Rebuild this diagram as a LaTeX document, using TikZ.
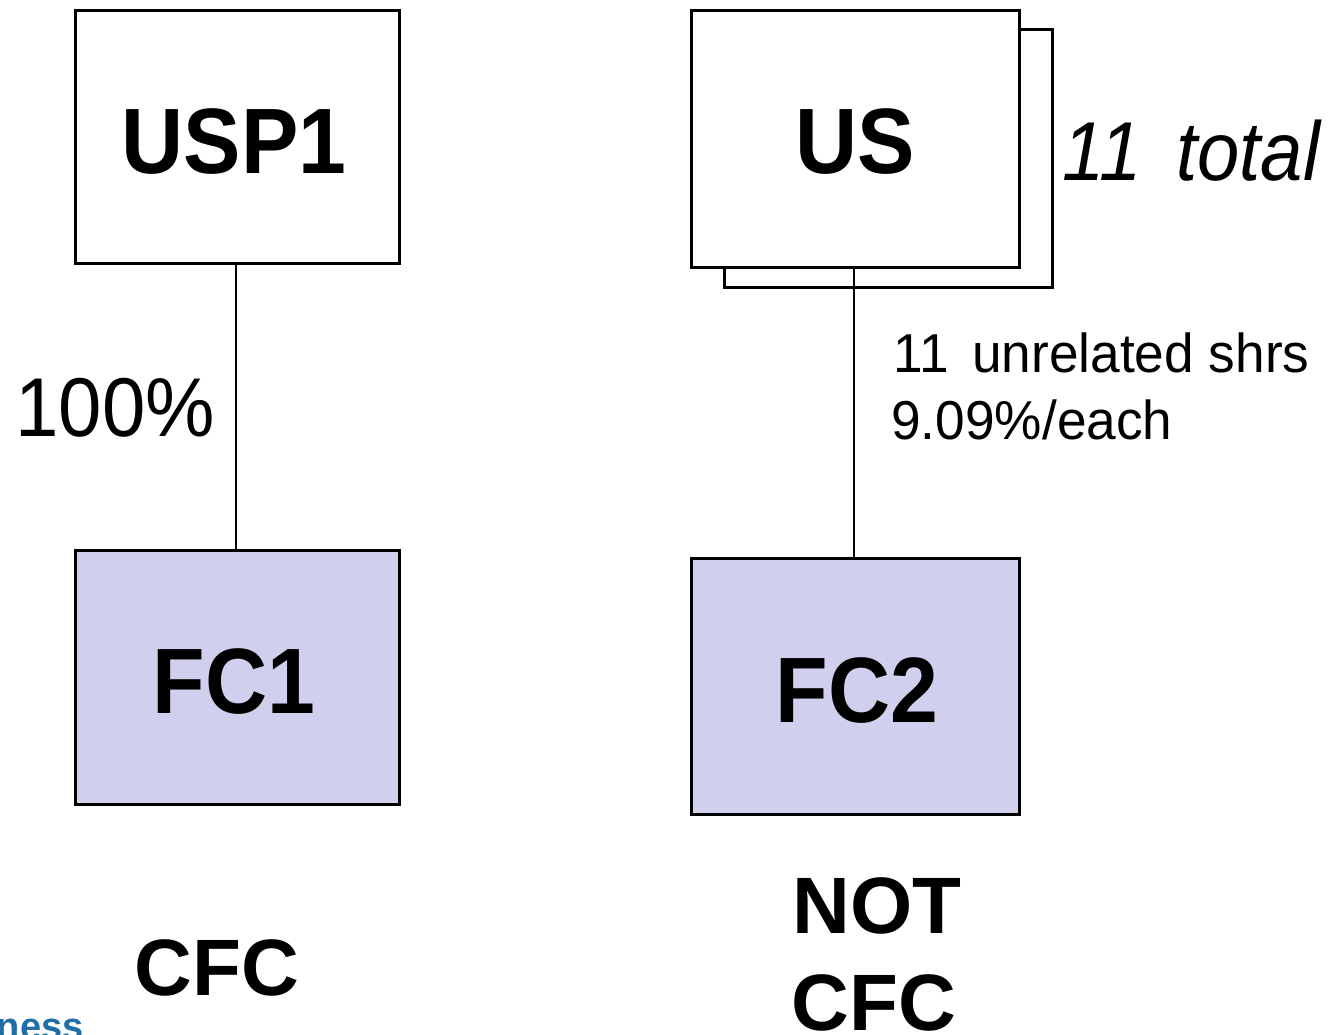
\documentclass[tikz,border=0pt]{standalone}
\usepackage{fontspec}
\setmainfont{Liberation Sans}
\definecolor{fcfill}{HTML}{D0D0EE}
\definecolor{brandblue}{HTML}{1F6EA6}
\begin{document}
\begin{tikzpicture}[x=0.5pt,y=-0.5pt,
  box/.style={draw=black,line width=1.5pt,inner sep=0pt},
  conn/.style={draw=black,line width=1pt},
  lbl/.style={font=\fontsize{43}{50}\selectfont\bfseries,anchor=base,inner sep=0pt,yscale=1.08,transform shape},
  note/.style={font=\fontsize{26.6}{32}\selectfont,anchor=base west,inner sep=0pt,yscale=1.03,transform shape},
  verdict/.style={font=\fontsize{40}{48}\selectfont\bfseries,anchor=base,inner sep=0pt}]
\useasboundingbox (0,0) rectangle (1334,1034);
\clip (0,0) rectangle (1334,1034);
% boxes
\draw[box,fill=white] (724,29) rectangle (1052,287);
\draw[box,fill=white] (691,10) rectangle (1019,267);
\coordinate (usB) at (854,267);
\draw[box,fill=white] (75,10) rectangle (399,263);
\coordinate (usp1B) at (236,263);
\draw[box,fill=fcfill] (75,550) rectangle (399,804);
\coordinate (fc1T) at (236,550);
\draw[box,fill=fcfill] (691,558) rectangle (1019,814);
\coordinate (fc2T) at (854,558);
% connectors
\draw[conn] (usp1B) -- (fc1T);
\draw[conn] (usB) -- (fc2T);
% labels
\node[lbl] (usp1) at (234,173) {USP1};
\node[lbl] (us) at (855,173) {US};
\node[lbl] (fc1) at (234,713) {FC1};
\node[lbl] (fc2) at (857,722) {FC2};
\node[font=\fontsize{39}{46}\selectfont,anchor=base west,inner sep=0pt,yscale=1.07,transform shape] (pct) at (15,436) {100\%};
\node[font=\fontsize{38}{46}\selectfont\itshape,anchor=base west,inner sep=0pt,yscale=1.1,transform shape] (tot) at (1062,180) {11 \hspace{7pt}total};
\node[note] (n1) at (893,372) {11 \hspace{4.5pt}unrelated shrs};
\node[note] (n2) at (891,439) {9.09\%/each};
\node[verdict] (cfc1) at (217,995) {CFC};
\node[verdict] (not) at (877,933) {NOT};
\node[verdict] (cfc2) at (874,1030) {CFC};
\node[font=\fontsize{19}{22}\selectfont\bfseries,text=brandblue,anchor=base east,inner sep=0pt] (ness) at (84,1039) {ness};
\end{tikzpicture}
\end{document}
